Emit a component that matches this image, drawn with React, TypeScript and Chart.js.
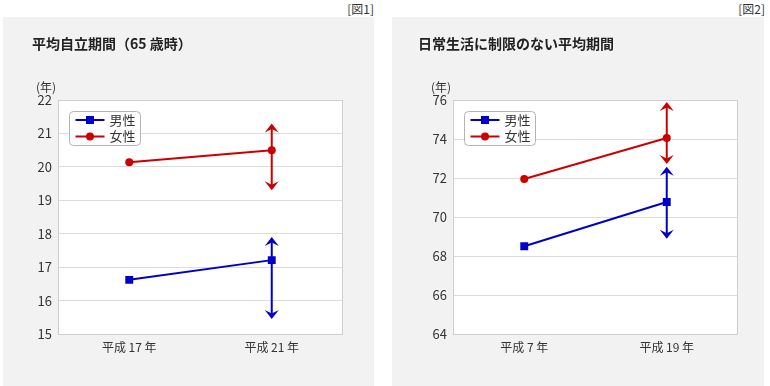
import React, { useEffect, useRef } from "react";
import { Chart, registerables } from "chart.js";

Chart.register(...registerables);

// ---- Figure 1 data ----
const fig1Title = "平均自立期間（65 歳時）";
const fig1Tag = "[図1]";
const fig1Categories = ["平成 17 年", "平成 21 年"];
const fig1Male = [16.62, 17.21];
const fig1Female = [20.14, 20.5];
const fig1MaleLow = [null, 15.45];
const fig1MaleHigh = [null, 17.9];
const fig1FemaleLow = [null, 19.3];
const fig1FemaleHigh = [null, 21.3];
const fig1YMin = 15;
const fig1YMax = 22;
const fig1YStep = 1;

// ---- Figure 2 data ----
const fig2Title = "日常生活に制限のない平均期間";
const fig2Tag = "[図2]";
const fig2Categories = ["平成 7 年", "平成 19 年"];
const fig2Male = [68.5, 70.77];
const fig2Female = [71.95, 74.05];
const fig2MaleLow = [null, 68.88];
const fig2MaleHigh = [null, 72.58];
const fig2FemaleLow = [null, 72.72];
const fig2FemaleHigh = [null, 75.9];
const fig2YMin = 64;
const fig2YMax = 76;
const fig2YStep = 2;

const seriesLabels = ["男性", "女性"];
const unitLabel = "(年)";

const FONT = '"Noto Sans CJK JP", "Liberation Sans", sans-serif';
const BLUE = "#0000c8";
const RED = "#cc0000";

function drawArrowHead(ctx: CanvasRenderingContext2D, x: number, y: number, dir: number) {
  // dir = -1 pointing up, +1 pointing down
  const w = 7;
  const h = 9;
  const n = 5.5;
  ctx.beginPath();
  ctx.moveTo(x, y);
  ctx.lineTo(x - w, y - dir * h);
  ctx.lineTo(x, y - dir * n);
  ctx.lineTo(x + w, y - dir * h);
  ctx.closePath();
  ctx.fill();
}

const panelPlugin = {
  id: "panelDecor",
  beforeDraw(chart: any) {
    const { ctx, chartArea } = chart;
    ctx.save();
    ctx.fillStyle = "#ffffff";
    ctx.fillRect(chartArea.left, chartArea.top, chartArea.right - chartArea.left, chartArea.bottom - chartArea.top);
    ctx.restore();
  },
  beforeDatasetsDraw(chart: any) {
    const { ctx, chartArea } = chart;
    ctx.save();
    ctx.strokeStyle = "#cfcfcf";
    ctx.lineWidth = 1;
    ctx.strokeRect(
      Math.round(chartArea.left) + 0.5,
      Math.round(chartArea.top) + 0.5,
      Math.round(chartArea.right - chartArea.left) - 1,
      Math.round(chartArea.bottom - chartArea.top)
    );
    // error arrows
    const yScale = chart.scales.y;
    chart.data.datasets.forEach((ds: any, i: number) => {
      const meta = chart.getDatasetMeta(i);
      const lows = ds.errLow || [];
      const highs = ds.errHigh || [];
      meta.data.forEach((pt: any, j: number) => {
        const lo = lows[j];
        const hi = highs[j];
        if (lo == null || hi == null) return;
        const x = pt.x;
        const yLo = yScale.getPixelForValue(lo);
        const yHi = yScale.getPixelForValue(hi);
        ctx.strokeStyle = ds.borderColor;
        ctx.fillStyle = ds.borderColor;
        ctx.lineWidth = 2;
        ctx.beginPath();
        ctx.moveTo(x, yHi + 5);
        ctx.lineTo(x, yLo - 5);
        ctx.stroke();
        drawArrowHead(ctx, x, yHi, -1);
        drawArrowHead(ctx, x, yLo, 1);
      });
    });
    ctx.restore();
  },
  afterDraw(chart: any) {
    const { ctx, chartArea } = chart;
    ctx.save();
    // unit label
    ctx.font = `12px ${FONT}`;
    ctx.fillStyle = "#333333";
    ctx.textAlign = "left";
    ctx.textBaseline = "middle";
    ctx.fillText(unitLabel, chartArea.left - 22, chartArea.top - 13);

    // legend
    const bx = Math.round(chartArea.left) + 11.5;
    const by = Math.round(chartArea.top) + 11.5;
    const bw = 71;
    const bh = 34;
    const r = 4;
    ctx.beginPath();
    ctx.moveTo(bx + r, by);
    ctx.lineTo(bx + bw - r, by);
    ctx.arcTo(bx + bw, by, bx + bw, by + r, r);
    ctx.lineTo(bx + bw, by + bh - r);
    ctx.arcTo(bx + bw, by + bh, bx + bw - r, by + bh, r);
    ctx.lineTo(bx + r, by + bh);
    ctx.arcTo(bx, by + bh, bx, by + bh - r, r);
    ctx.lineTo(bx, by + r);
    ctx.arcTo(bx, by, bx + r, by, r);
    ctx.closePath();
    ctx.fillStyle = "#ffffff";
    ctx.fill();
    ctx.strokeStyle = "#b4b4b4";
    ctx.lineWidth = 1;
    ctx.stroke();

    chart.data.datasets.forEach((ds: any, i: number) => {
      const cy = by + 8.5 + i * 16.5;
      ctx.strokeStyle = ds.borderColor;
      ctx.fillStyle = ds.borderColor;
      ctx.lineWidth = 2;
      ctx.beginPath();
      ctx.moveTo(bx + 6, cy);
      ctx.lineTo(bx + 35, cy);
      ctx.stroke();
      const mx = bx + 20.5;
      if (ds.pointStyle === "rect") {
        ctx.fillRect(mx - 4, cy - 4, 8, 8);
      } else {
        ctx.beginPath();
        ctx.arc(mx, cy, 4, 0, Math.PI * 2);
        ctx.fill();
      }
      ctx.fillStyle = "#333333";
      ctx.font = `13px ${FONT}`;
      ctx.textAlign = "left";
      ctx.textBaseline = "middle";
      ctx.fillText(ds.label, bx + 40, cy);
    });
    ctx.restore();
  },
};

type PanelProps = {
  categories: string[];
  male: number[];
  female: number[];
  maleLow: (number | null)[];
  maleHigh: (number | null)[];
  femaleLow: (number | null)[];
  femaleHigh: (number | null)[];
  yMin: number;
  yMax: number;
  yStep: number;
  yWidth: number;
  padRight: number;
  width: number;
  height: number;
};

function ChartPanel(p: PanelProps) {
  const ref = useRef<HTMLCanvasElement | null>(null);
  useEffect(() => {
    if (!ref.current) return;
    const chart = new Chart(ref.current, {
      type: "line",
      data: {
        labels: p.categories,
        datasets: [
          {
            label: seriesLabels[0],
            data: p.male,
            borderColor: BLUE,
            backgroundColor: BLUE,
            borderWidth: 2,
            pointStyle: "rect",
            pointRadius: 5.6,
            pointBorderWidth: 0,
            errLow: p.maleLow,
            errHigh: p.maleHigh,
          } as any,
          {
            label: seriesLabels[1],
            data: p.female,
            borderColor: RED,
            backgroundColor: RED,
            borderWidth: 2,
            pointStyle: "circle",
            pointRadius: 4,
            pointBorderWidth: 0,
            errLow: p.femaleLow,
            errHigh: p.femaleHigh,
          } as any,
        ],
      },
      options: {
        responsive: false,
        animation: false,
        devicePixelRatio: 1,
        layout: { padding: { top: 83, left: 0, right: p.padRight, bottom: 22 } },
        plugins: {
          legend: { display: false },
          tooltip: { enabled: false },
          title: { display: false },
        },
        scales: {
          x: {
            type: "category",
            offset: true,
            grid: { display: false, drawTicks: false },
            border: { display: false },
            ticks: {
              color: "#333333",
              font: { family: FONT, size: 12 },
              padding: 6,
              maxRotation: 0,
            },
            afterFit: (s: any) => {
              s.height = 30;
            },
          },
          y: {
            min: p.yMin,
            max: p.yMax,
            grid: { color: "#dcdcdc", lineWidth: 1, drawTicks: false },
            border: { display: false },
            ticks: {
              stepSize: p.yStep,
              color: "#333333",
              font: { family: FONT, size: 13 },
              padding: 6,
            },
            afterFit: (s: any) => {
              s.width = p.yWidth;
            },
          },
        },
      } as any,
      plugins: [panelPlugin],
    });
    return () => chart.destroy();
  }, []);
  return <canvas ref={ref} width={p.width} height={p.height} style={{ display: "block" }} />;
}

export default function App() {
  const tagStyle: React.CSSProperties = {
    position: "absolute",
    top: 2,
    fontSize: 12,
    lineHeight: "13px",
    fontFamily: FONT,
    color: "#333",
  };
  const titleStyle: React.CSSProperties = {
    position: "absolute",
    top: 35,
    fontSize: 14,
    lineHeight: "16px",
    fontWeight: "bold",
    fontFamily: FONT,
    color: "#222",
    whiteSpace: "nowrap",
  };
  return (
    <div
      style={{
        position: "absolute",
        left: 0,
        top: 0,
        width: 770,
        height: 386,
        background: "#ffffff",
        overflow: "hidden",
      }}
    >
      <div style={{ ...tagStyle, right: 770 - 374 }}>{fig1Tag}</div>
      <div style={{ ...tagStyle, right: 770 - 765 }}>{fig2Tag}</div>

      <div style={{ position: "absolute", left: 3, top: 17, width: 371, height: 369, background: "#f2f2f2" }}>
        <ChartPanel
          categories={fig1Categories}
          male={fig1Male}
          female={fig1Female}
          maleLow={fig1MaleLow}
          maleHigh={fig1MaleHigh}
          femaleLow={fig1FemaleLow}
          femaleHigh={fig1FemaleHigh}
          yMin={fig1YMin}
          yMax={fig1YMax}
          yStep={fig1YStep}
          yWidth={55}
          padRight={31}
          width={371}
          height={369}
        />
      </div>
      <div style={{ ...titleStyle, left: 32 }}>{fig1Title}</div>

      <div style={{ position: "absolute", left: 392, top: 17, width: 372, height: 369, background: "#f2f2f2" }}>
        <ChartPanel
          categories={fig2Categories}
          male={fig2Male}
          female={fig2Female}
          maleLow={fig2MaleLow}
          maleHigh={fig2MaleHigh}
          femaleLow={fig2FemaleLow}
          femaleHigh={fig2FemaleHigh}
          yMin={fig2YMin}
          yMax={fig2YMax}
          yStep={fig2YStep}
          yWidth={61}
          padRight={26}
          width={372}
          height={369}
        />
      </div>
      <div style={{ ...titleStyle, left: 418 }}>{fig2Title}</div>
    </div>
  );
}
